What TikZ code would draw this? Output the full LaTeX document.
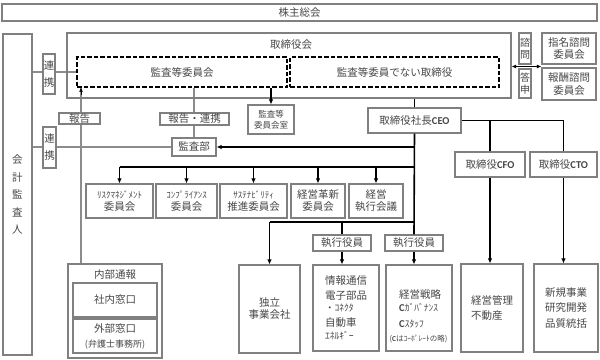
\documentclass[tikz,border=0pt]{standalone}
\usepackage{fontspec}
\setmainfont{Noto Sans CJK JP}
\newfontfamily\latf{Carlito}
\usetikzlibrary{arrows.meta,calc}
\pgfdeclarelayer{bg}
\pgfsetlayers{bg,main}
\newcommand\fz[2]{\fontsize{#1}{#2}\selectfont}
\newcommand\Lb[1]{{\latf\bfseries #1}}
\newcommand\bxn[7][]{\node[bx,minimum width={#5-#3},minimum height={#6-#4},#1] (#2) at ({(#3+#5)/2},{(#4+#6)/2}) {#7};}
\tikzset{
  bx/.style={draw=black!50,line width=1.1pt,fill=white,inner sep=0pt,align=center},
  dbx/.style={draw=black,line width=1.4pt,dash pattern=on 4.5pt off 2pt},
  txt/.style={inner sep=0pt,align=left},
  ln/.style={draw=black,line width=1.6pt},
  arr/.style={ln,-{Latex[length=5pt,width=4.5pt]}},
  arrs/.style={draw=black,line width=1pt,-{Latex[length=4pt,width=4pt]}},
  darr/.style={draw=black,line width=1.3pt,{Latex[length=4.5pt,width=4pt]}-{Latex[length=4.5pt,width=4pt]}},
  gl/.style={draw=black!65,line width=0.6pt,double=black!45,double distance=1.6pt},
}
\begin{document}
\begin{tikzpicture}[x=1pt,y=-1pt,font=\fz{10.5}{13},text=black!72]
\useasboundingbox (0,0) rectangle (600,359);
% top level
\bxn{sh}{2}{4}{597}{21}{株主総会}
\bxn[font=\fz{10.5}{17.5}]{aud}{3}{34}{32}{355}{会\\計\\監\\査\\人}
\bxn[fill=none]{brd}{67}{33}{511}{98}{}
\node[txt] (brdT) at (291,45) {取締役会};
\bxn[dbx]{ac}{77}{57}{287}{87}{監査等委員会}
\bxn[dbx]{nd}{290}{57}{499}{87}{監査等委員でない取締役}
\bxn[font=\fz{10.5}{17}]{rk1}{43}{54}{55}{94}{連\\携}
\bxn[font=\fz{10.5}{17}]{rk2}{43}{127}{56}{168}{連\\携}
\bxn[font=\fz{10}{12}]{sm1}{519}{33}{531}{64}{諮\\問}
\bxn[font=\fz{10}{12}]{sm2}{519}{69}{531}{98}{答\\申}
\bxn[font=\fz{10.5}{12.5}]{nom}{542}{33}{596}{64}{指名諮問\\委員会}
\bxn[font=\fz{10.5}{12.5}]{rem}{542}{68}{596}{100}{報酬諮問\\委員会}
\bxn[font=\fz{8.5}{11}]{room}{248}{105}{294}{134}{監査等\\委員会室}
\bxn{ceo}{368}{108}{461}{133}{取締役社長\Lb{CEO}}
\bxn{kb}{172}{138}{216}{156}{監査部}
\bxn{hr}{160}{113}{229}{125}{報告・連携}
\bxn{hk}{59}{113}{100}{124}{報告}
% committees
\bxn[font=\fz{10.5}{12.5}]{c1}{86}{184}{153}{218}{{\fz{9}{10}ﾘｽｸﾏﾈｼﾞﾒﾝﾄ}\\委員会}
\bxn[font=\fz{10.5}{12.5}]{c2}{156}{184}{217}{218}{{\fz{9}{10}ｺﾝﾌﾟﾗｲｱﾝｽ}\\委員会}
\bxn[font=\fz{10.5}{12.5}]{c3}{220}{184}{287}{218}{{\fz{9}{10}ｻｽﾃﾅﾋﾞﾘﾃｨ}\\推進委員会}
\bxn[font=\fz{10.5}{12}]{c4}{291}{184}{345}{218}{経営革新\\委員会}
\bxn[font=\fz{10.5}{12}]{c5}{349}{184}{403}{218}{経営\\執行会議}
% executives
\bxn{ex1}{313}{235}{371}{251}{執行役員}
\bxn{ex2}{385}{235}{443}{251}{執行役員}
\bxn{cfo}{455}{152}{525}{177}{取締役\Lb{CFO}}
\bxn{cto}{530}{152}{597}{177}{取締役\Lb{CTO}}
% bottom boxes
\bxn[font=\fz{10.5}{12}]{ind}{239}{265}{300}{353}{独立\\事業会社}
\bxn[align=left,font=\fz{10.5}{15}]{info}{313}{265}{379}{351}{情報通信\\[0pt]電子部品\\[-3.5pt]{\fz{9.5}{10}・ｺﾈｸﾀ}\\[0.5pt]自動車\\[-2.5pt]{\fz{9.5}{10}ｴﾈﾙｷﾞｰ}}
\bxn{st}{386}{265}{452}{351}{}
\node[txt,anchor=north west,font=\fz{10.5}{14.5}] (stT) at (399,289) {経営戦略\\[-1pt]{\Lb{C}\fz{9.5}{10}ｶﾞﾊﾞﾅﾝｽ}\\[1.5pt]{\Lb{C}\fz{9.5}{10}ｽﾀｯﾌ}};
\node[txt,font=\fz{7.5}{9}] (stN) at (418.5,339) {(\Lb{C}はｺｰﾎﾟﾚｰﾄの略)};
\bxn[align=left,font=\fz{10.5}{15}]{kk}{461}{264}{523}{352}{経営管理\\不動産}
\bxn[font=\fz{10.5}{15.5}]{sk}{534}{264}{598}{352}{新規事業\\研究開発\\品質統括}
% internal reporting
\bxn{ib}{68}{264}{162}{358}{}
\node[txt] (ibT) at (115,275) {内部通報};
\bxn{ib1}{73}{283}{157}{317}{社内窓口}
\bxn[font=\fz{10.5}{15}]{ib2}{73}{319}{157}{353}{外部窓口\\{\fz{9}{10}(弁護士事務所)}}
% gray connectors
\coordinate (rx) at (81,0);
\begin{pgfonlayer}{bg}
\draw[gl] (aud.east |- ac.west) -- (ac.west);
\draw[gl] (aud.east |- kb.west) -- (kb.west);
\draw[gl] (kb.north |- ac.south) -- (kb.north);
\draw[gl] (ib.north -| rx) -- (rx |- ac.south);
\end{pgfonlayer}
\draw[arrs] ($(rx |- ac.south)+(0,7)$) -- (rx |- ac.south);
% black connectors
\draw[arr] (room.north |- ac.south) -- (room.north);
\draw[ln] (brd.south -| ceo.north) -- (ceo.north);
\draw[ln] (ceo.south) -- (ex2.north);
\draw[arr] (ceo.south |- kb.east) -- (kb.east);
\coordinate (b1) at (ceo.south |- 0,167);
\coordinate (b2) at (ceo.south |- 0,222);
\draw[ln] (c1.north |- b1) -- (b1);
\foreach \c in {c1,c2,c3,c4,c5} \draw[arr] (\c.north |- b1) -- (\c.north);
\draw[ln] (ind.north |- b2) -- (b2);
\draw[arr] (ind.north |- b2) -- (ind.north);
\draw[ln] (ex1.north |- b2) -- (ex1.north);
\draw[arr] (ex1.south) -- (ex1.south |- info.north);
\draw[arr] (ex2.south) -- (ex2.south |- st.north);
\draw[ln] (ceo.east) -| (cto.north);
\draw[ln] (ceo.east -| cfo.north) -- (cfo.north);
\draw[arr] (cfo.south) -- (cfo.south |- kk.north);
\draw[arr] (cto.south) -- (cto.south |- sk.north);
\coordinate (sa) at ($(sm1.south)!0.5!(sm2.north)$);
\draw[darr] (brd.east |- sa) -- (nom.west |- sa);
\end{tikzpicture}
\end{document}
